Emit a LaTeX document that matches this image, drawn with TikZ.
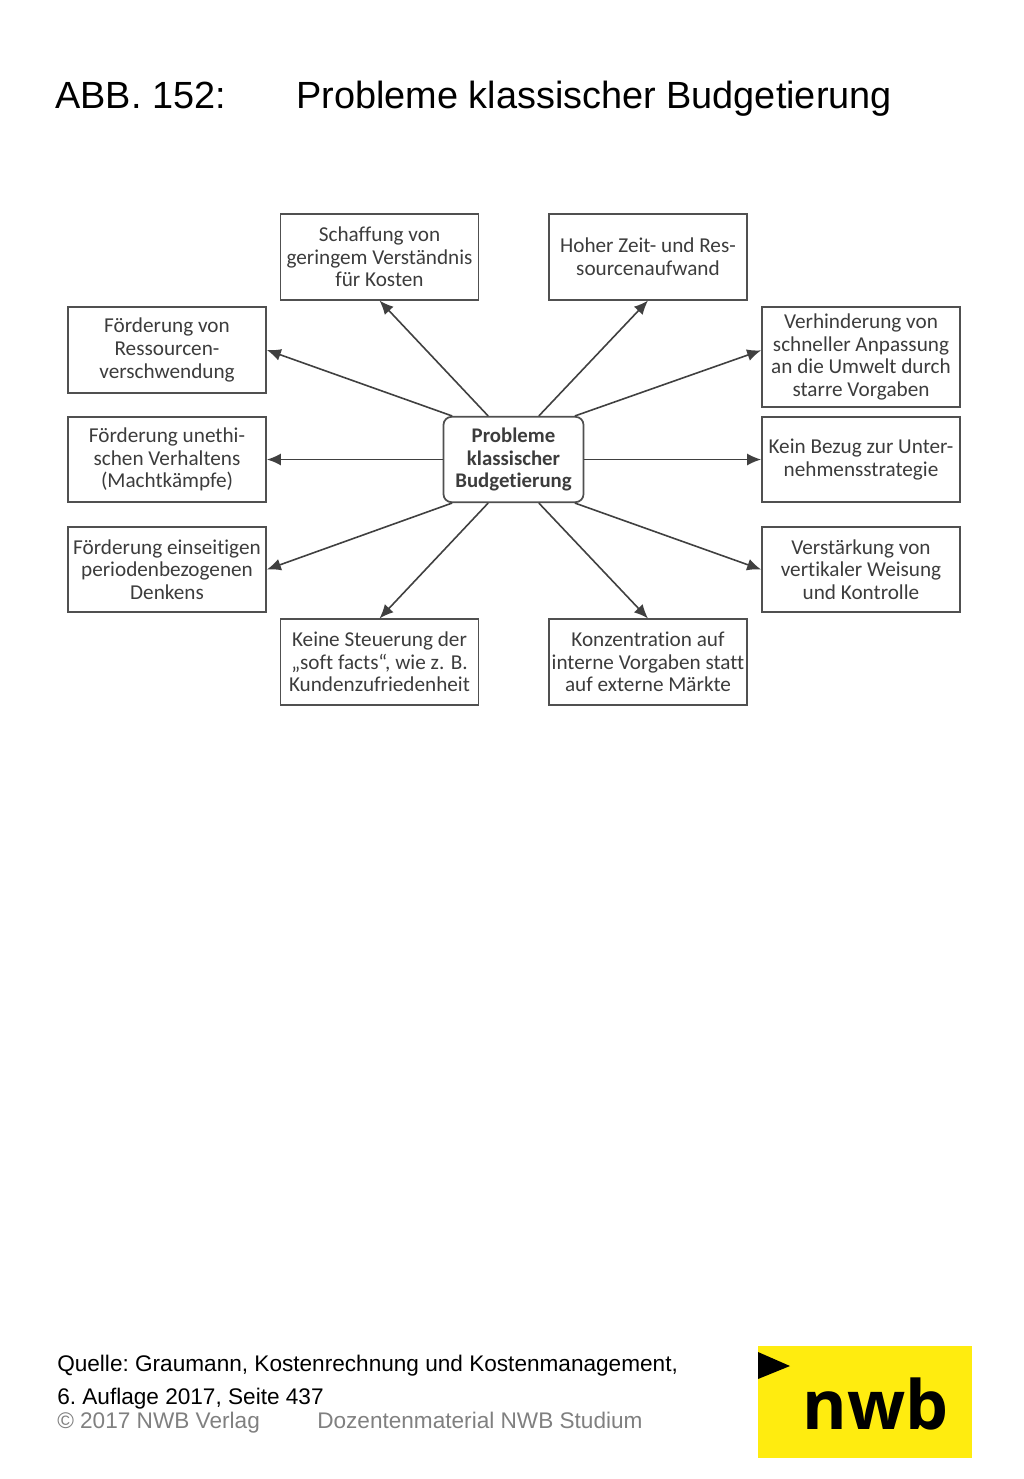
\documentclass[tikz,border=0pt]{standalone}
\usepackage{fontspec}
\setmainfont{Liberation Sans}
\newfontfamily\boxfont[Ligatures=NoCommon]{Carlito}
\newfontfamily\logofont{Open Sans}
\usetikzlibrary{arrows.meta}
\definecolor{nwbyellow}{HTML}{FFEC0F}
\definecolor{boxline}{HTML}{505050}
\definecolor{boxtext}{HTML}{3C3C3C}
\tikzset{
	probbox/.style={draw=boxline, line width=1.3pt, minimum width=148.5pt, minimum height=64pt, inner sep=0pt, align=center, text=boxtext, font=\boxfont\fontsize{15.9}{17}\selectfont},
	probarrow/.style={draw=boxline!80!black, line width=1.2pt, -{Latex[length=10.5pt,width=9pt]}},
	headline/.style={anchor=base west, inner sep=0pt, font=\fontsize{28.4}{34}\selectfont},
	sourceline/.style={anchor=base west, inner sep=0pt, font=\frenchspacing\fontsize{16.95}{20}\selectfont},
}

\begin{document}
\begin{tikzpicture}[x=0.75pt, y=-0.75pt]
	\useasboundingbox (0,0) rectangle (1024,1479);
	\node[headline] (abb) at (55,108) {ABB. 152:};
	\node[headline] (title) at (296,108) {Probleme klassischer Budgetierung};
	% boxes around the centre
	\node[probbox, rounded corners=6pt, minimum width=105pt, font=\boxfont\bfseries\fontsize{15.6}{17}\selectfont] (centre) at (513.5,459.5) {Probleme\\klassischer\\Budgetierung};
	\node[probbox] (costs) at (379.5,257) {Schaffung von\\geringem Verständnis\\für Kosten};
	\node[probbox] (effort) at (648,257) {Hoher Zeit- und Res-\\sourcenaufwand};
	\node[probbox] (waste) at (167,350) {Förderung von\\Ressourcen-\\verschwendung};
	\node[probbox] (ethics) at (167,459.5) {Förderung unethi-\\schen Verhaltens\\(Machtkämpfe)};
	\node[probbox] (period) at (167,569.5) {Förderung einseitigen\\periodenbezogenen\\Denkens};
	\node[probbox] (soft) at (379.5,662) {Keine Steuerung der\\„soft facts“, wie z. B.\\Kundenzufriedenheit};
	\node[probbox] (markets) at (648,662) {Konzentration auf\\interne Vorgaben statt\\auf externe Märkte};
	\node[probbox, minimum height=74.5pt] (rigid) at (861,357) {Verhinderung von\\schneller Anpassung\\an die Umwelt durch\\starre Vorgaben};
	\node[probbox] (strategy) at (861,459.5) {Kein Bezug zur Unter-\\nehmensstrategie};
	\node[probbox] (order) at (861,569.5) {Verstärkung von\\vertikaler Weisung\\und Kontrolle};
	% arrows
	\foreach \side/\dx/\target/\tip in {north/-19/costs/south, north/19/effort/south, north/-46/waste/east, south/-19/soft/north, south/19/markets/north, south/-46/period/east, south/46/order/west} {
		\draw[probarrow] ([xshift=\dx pt]centre.\side) -- (\target.\tip);
	}
	\draw[probarrow] ([xshift=46pt]centre.north) -- ([yshift=5pt]rigid.west);
	\draw[probarrow] (centre.west) -- (ethics.east);
	\draw[probarrow] (centre.east) -- (strategy.west);
	% footer
	\node[sourceline] (quelle) at (57,1371) {Quelle: Graumann, Kostenrechnung und Kostenmanagement,};
	\node[sourceline] (auflage) at (57,1404) {6. Auflage 2017, Seite 437};
	\node[sourceline, text=black!50] (verlag) at (57,1428) {© 2017 NWB Verlag};
	\node[sourceline, text=black!50] (material) at (317,1428) {Dozentenmaterial NWB Studium};
	% logo
	\fill[nwbyellow] (758,1346) rectangle (972,1458);
	\fill[black] (758,1352) -- (790,1366) -- (758,1379) -- cycle;
	\node[anchor=base, inner sep=0pt, font=\logofont\bfseries\fontsize{51}{54}\selectfont] (nwb) at (875.5,1429) {nwb};
\end{tikzpicture}
\end{document}
